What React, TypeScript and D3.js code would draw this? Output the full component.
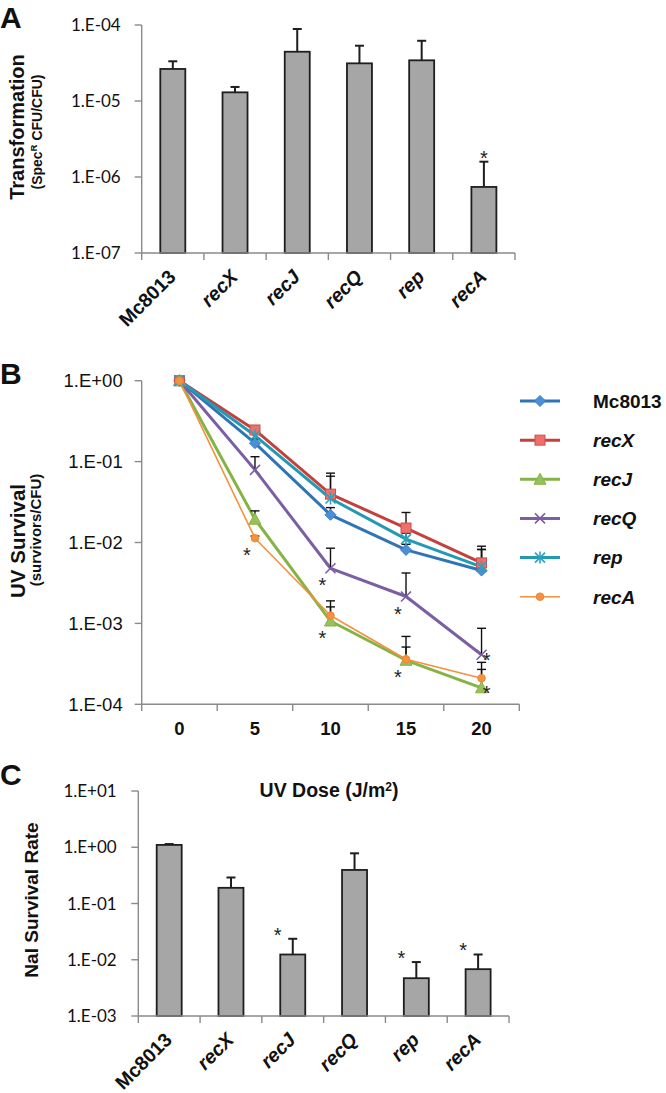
import React from 'react';
import * as d3 from 'd3';

// ---------- Panel A data ----------
const strains = ['Mc8013', 'recX', 'recJ', 'recQ', 'rep', 'recA'];
const strainItalic = [false, true, true, true, true, true];
const transformation = [2.64e-5, 1.3e-5, 4.45e-5, 3.13e-5, 3.43e-5, 7.4e-7];
const transformationErrTop = [3.33e-5, 1.53e-5, 8.86e-5, 5.34e-5, 6.2e-5, 1.59e-6];
const transformationSig = [false, false, false, false, false, true];
const transformationTicks = [1e-7, 1e-6, 1e-5, 1e-4];

// ---------- Panel B data ----------
const uvDoses = ['0', '5', '10', '15', '20'];
const uvSeriesNames = ['Mc8013', 'recX', 'recJ', 'recQ', 'rep', 'recA'];
const uvMc8013 = [1, 0.169, 0.022, 0.0081, 0.0045];
const uvMc8013Err = [1, 0.19, 0.027, 0.0095, 0.0082];
const uvRecX = [1, 0.246, 0.0396, 0.0151, 0.0056];
const uvRecXErr = [1, 0.27, 0.072, 0.0235, 0.009];
const uvRecJ = [1, 0.0194, 0.00107, 0.00035, 0.00016];
const uvRecJErr = [1, 0.0246, 0.0019, 0.00069, 0.00033];
const uvRecQ = [1, 0.079, 0.0048, 0.00215, 0.00041];
const uvRecQErr = [1, 0.115, 0.0085, 0.0042, 0.00087];
const uvRep = [1, 0.21, 0.035, 0.011, 0.005];
const uvRepErr = [1, 0.23, 0.066, 0.013, 0.0082];
const uvRecA = [1, 0.0113, 0.00125, 0.00036, 0.00021];
const uvRecAErr = [1, 0.012, 0.0016, 0.00051, 0.00027];
const uvTicks = [1e-4, 1e-3, 1e-2, 1e-1, 1];
const uvStars = [
  { series: 'recA', dose: '5' },
  { series: 'recQ', dose: '10' },
  { series: 'recJ', dose: '10' },
  { series: 'recQ', dose: '15' },
  { series: 'recJ', dose: '15' },
  { series: 'recQ', dose: '20' },
  { series: 'recJ', dose: '20' },
];

// ---------- Panel C data ----------
const nalSurvival = [1.1, 0.19, 0.0124, 0.395, 0.0047, 0.0068];
const nalErrTop = [1.14, 0.29, 0.0236, 0.78, 0.0091, 0.0124];
const nalSig = [false, false, true, false, true, true];
const nalTicks = [1e-3, 1e-2, 1e-1, 1, 10];

// ---------- styles ----------
const seriesStyle: Record<string, any> = {
  Mc8013: { color: '#2f74b5', width: 3, marker: 'diamond', fill: '#4b8fd8', stroke: '#3a7cc4', italic: false },
  recX: { color: '#c4403d', width: 3, marker: 'square', fill: '#ee6f6c', stroke: '#c9504c', italic: true },
  recJ: { color: '#86b346', width: 3, marker: 'triangle', fill: '#96c257', stroke: '#86b346', italic: true },
  recQ: { color: '#7b5ea3', width: 3, marker: 'x', fill: 'none', stroke: '#7b5ea3', italic: true },
  rep: { color: '#2499b3', width: 3, marker: 'star', fill: 'none', stroke: '#2aa3be', italic: true },
  recA: { color: '#f5903f', width: 1.6, marker: 'circle', fill: '#f5923f', stroke: '#f08634', italic: true },
};
const uvValues: Record<string, number[]> = {
  Mc8013: uvMc8013, recX: uvRecX, recJ: uvRecJ, recQ: uvRecQ, rep: uvRep, recA: uvRecA,
};
const uvErrs: Record<string, number[]> = {
  Mc8013: uvMc8013Err, recX: uvRecXErr, recJ: uvRecJErr, recQ: uvRecQErr, rep: uvRepErr, recA: uvRecAErr,
};

const AXIS = '#8a8a8a';
const SANS = '"Liberation Sans", Arial, Helvetica, sans-serif';
const TICKFONT = 'Lato, "Liberation Sans", sans-serif';

function fmtExp(v: number) {
  const e = Math.round(Math.log10(v));
  return `1.E${e < 0 ? '-' : '+'}${String(Math.abs(e)).padStart(2, '0')}`;
}

function Marker({ type, x, y, fill, stroke }: any) {
  const s = 5.5;
  if (type === 'diamond')
    return <path d={`M${x},${y - s}L${x + s},${y}L${x},${y + s}L${x - s},${y}Z`} fill={fill} stroke={stroke} strokeWidth={1} />;
  if (type === 'square')
    return <rect x={x - 5} y={y - 5} width={10} height={10} fill={fill} stroke={stroke} strokeWidth={1} />;
  if (type === 'triangle')
    return <path d={`M${x},${y - 6}L${x + 6},${y + 5}L${x - 6},${y + 5}Z`} fill={fill} stroke={stroke} strokeWidth={1} />;
  if (type === 'x')
    return (
      <g stroke={stroke} strokeWidth={1.6}>
        <line x1={x - 5} y1={y - 5} x2={x + 5} y2={y + 5} />
        <line x1={x - 5} y1={y + 5} x2={x + 5} y2={y - 5} />
      </g>
    );
  if (type === 'star')
    return (
      <g stroke={stroke} strokeWidth={1.6}>
        <line x1={x - 5} y1={y - 5} x2={x + 5} y2={y + 5} />
        <line x1={x - 5} y1={y + 5} x2={x + 5} y2={y - 5} />
        <line x1={x} y1={y - 6} x2={x} y2={y + 6} />
      </g>
    );
  return <circle cx={x} cy={y} r={3.8} fill={fill} stroke={stroke} strokeWidth={1} />;
}

function Star({ x, y }: { x: number; y: number }) {
  // x,y = visual centre of the asterisk
  return (
    <text x={x} y={y + 11} textAnchor="middle" fontFamily={SANS} fontSize={20} fill="#222">*</text>
  );
}

function BarPanel({ xScale, yScale, values, errs, sig, ticks, labelEnd, starDx, starGap }: any) {
  const [x0, x1] = xScale.range();
  const [yb, yt] = yScale.range();
  const bw = 25;
  const cats: string[] = xScale.domain();
  const bounds = cats.map((c: string) => xScale(c)).concat([x1]);
  return (
    <g>
      {cats.map((c: string, i: number) => {
        const cx = xScale(c) + xScale.bandwidth() / 2;
        const top = yScale(values[i]);
        const et = yScale(errs[i]);
        return (
          <g key={c}>
            <line x1={cx} x2={cx} y1={top} y2={et} stroke="#1e1e1e" strokeWidth={2} />
            <line x1={cx - 4.5} x2={cx + 4.5} y1={et} y2={et} stroke="#1e1e1e" strokeWidth={2} />
            <rect x={cx - bw / 2} y={top} width={bw} height={yb - top} fill="#a6a6a6" stroke="#1e1e1e" strokeWidth={1.8} />
            {sig[i] && <Star x={cx + starDx} y={et - starGap} />}
          </g>
        );
      })}
      <line x1={x0} x2={x0} y1={yb} y2={yt} stroke={AXIS} strokeWidth={1.4} />
      <line x1={x0} x2={x1} y1={yb} y2={yb} stroke={AXIS} strokeWidth={1.4} />
      {ticks.map((t: number) => (
        <g key={t}>
          <line x1={x0 - 7} x2={x0} y1={yScale(t)} y2={yScale(t)} stroke={AXIS} strokeWidth={1.4} />
          <text x={x0 + labelEnd} y={yScale(t)} dy="0.36em" textAnchor="end" fontFamily={TICKFONT} fontSize={17} fill="#111">{fmtExp(t)}</text>
        </g>
      ))}
      {bounds.map((b: number, i: number) => (
        <line key={i} x1={b} x2={b} y1={yb} y2={yb + 7} stroke={AXIS} strokeWidth={1.4} />
      ))}
      {cats.map((c: string, i: number) => {
        const cx = xScale(c) + xScale.bandwidth() / 2;
        return (
          <text key={c} transform={`translate(${cx + 4},${yb + 25}) rotate(-45)`} textAnchor="end"
            fontFamily={SANS} fontWeight="bold" fontStyle={strainItalic[i] ? 'italic' : 'normal'} fontSize={19.5} fill="#111">{c}</text>
        );
      })}
    </g>
  );
}

export default function App() {
  const aX = d3.scaleBand<string>().domain(strains).range([141.7, 515]);
  const aY = d3.scaleLog().domain([1e-7, 1e-4]).range([253, 25]);

  const bX = d3.scaleBand<string>().domain(uvDoses).range([141.7, 519.3]);
  const bY = d3.scaleLog().domain([1e-4, 1]).range([704.3, 380.7]);
  const bx = (d: string) => (bX(d) as number) + bX.bandwidth() / 2;

  const cX = d3.scaleBand<string>().domain(strains).range([138.3, 509]);
  const cY = d3.scaleLog().domain([1e-3, 10]).range([1016, 791]);

  const lineGen = d3.line<[number, number]>().x((d) => d[0]).y((d) => d[1]);

  const legendY = d3.scalePoint<string>().domain(uvSeriesNames).range([401, 596.7]);

  return (
    <svg width={666} height={1093} style={{ position: 'absolute', left: 0, top: 0, background: '#fff' }}>
      <rect x={0} y={0} width={666} height={1093} fill="#fff" />
      <text x={0} y={28} fontFamily={SANS} fontWeight="bold" fontSize={30} fill="#111">A</text>
      <text x={0} y={384} fontFamily={SANS} fontWeight="bold" fontSize={30} fill="#111">B</text>
      <text x={0} y={785} fontFamily={SANS} fontWeight="bold" fontSize={30} fill="#111">C</text>

      {/* Panel A */}
      <text transform="translate(24,127) rotate(-90)" textAnchor="middle" fontFamily={SANS} fontWeight="bold" fontSize={20} fill="#111">Transformation</text>
      <text transform="translate(42,132) rotate(-90)" textAnchor="middle" fontFamily={SANS} fontWeight="bold" fontSize={14} fill="#111">
        (Spec<tspan dy={-5} fontSize={9.5}>R</tspan><tspan dy={5}> CFU/CFU)</tspan>
      </text>
      <BarPanel xScale={aX} yScale={aY} values={transformation} errs={transformationErrTop} sig={transformationSig}
        ticks={transformationTicks} labelEnd={-21} starDx={0} starGap={8} />

      {/* Panel B */}
      <text transform="translate(25,541) rotate(-90)" textAnchor="middle" fontFamily={SANS} fontWeight="bold" fontSize={20.5} fill="#111">UV Survival</text>
      <text transform="translate(41,530) rotate(-90)" textAnchor="middle" fontFamily={SANS} fontWeight="bold" fontSize={15} fill="#111">(survivors/CFU)</text>
      <line x1={141.7} x2={141.7} y1={380.7} y2={704.3} stroke={AXIS} strokeWidth={1.4} />
      <line x1={141.7} x2={519.3} y1={704.3} y2={704.3} stroke={AXIS} strokeWidth={1.4} />
      {uvTicks.map((t) => (
        <g key={t}>
          <line x1={134.7} x2={141.7} y1={bY(t)} y2={bY(t)} stroke={AXIS} strokeWidth={1.4} />
          <text x={122.7} y={bY(t)} dy="0.36em" textAnchor="end" fontFamily={SANS} fontSize={18.5} fill="#111">{fmtExp(t)}</text>
        </g>
      ))}
      {uvDoses.map((d) => (
        <g key={d}>
          <line x1={bX(d)} x2={bX(d)} y1={704.3} y2={711} stroke={AXIS} strokeWidth={1.4} />
          <text x={bx(d)} y={735} textAnchor="middle" fontFamily={SANS} fontWeight="bold" fontSize={18.5} fill="#111">{d}</text>
        </g>
      ))}
      <line x1={519.3} x2={519.3} y1={704.3} y2={711} stroke={AXIS} strokeWidth={1.4} />
      <text x={329} y={797} textAnchor="middle" fontFamily={SANS} fontWeight="bold" fontSize={19.5} fill="#111">
        UV Dose (J/m<tspan dy={-6} fontSize={12}>2</tspan><tspan dy={6}>)</tspan>
      </text>
      {uvSeriesNames.map((s) => {
        const st = seriesStyle[s];
        const pts = uvDoses.map((d, i) => [bx(d), bY(uvValues[s][i])] as [number, number]);
        return <path key={s} d={lineGen(pts) as string} fill="none" stroke={st.color} strokeWidth={st.width} strokeLinejoin="round" />;
      })}
      {uvSeriesNames.map((s) => (
        <g key={s} stroke="#111" strokeWidth={1.4}>
          {uvDoses.map((d, i) => {
            if (i === 0) return null;
            const y0 = bY(uvValues[s][i]);
            const y1 = bY(uvErrs[s][i]);
            const x = bx(d);
            return (
              <g key={d}>
                <line x1={x} x2={x} y1={y0} y2={y1} />
                <line x1={x - 4.5} x2={x + 4.5} y1={y1} y2={y1} />
              </g>
            );
          })}
        </g>
      ))}
      {uvSeriesNames.map((s) => {
        const st = seriesStyle[s];
        return (
          <g key={s}>
            {uvDoses.map((d, i) => (
              <Marker key={d} type={st.marker} x={bx(d)} y={bY(uvValues[s][i])} fill={st.fill} stroke={st.stroke} />
            ))}
          </g>
        );
      })}
      {uvStars.map((m, k) => {
        const i = uvDoses.indexOf(m.dose);
        const x = bx(m.dose);
        const y = bY(uvValues[m.series][i]);
        const last = i === uvDoses.length - 1;
        return <Star key={k} x={last ? x + 5 : x - 8} y={last ? y + 1 : y + 13} />;
      })}
      {uvSeriesNames.map((s) => {
        const st = seriesStyle[s];
        const y = legendY(s) as number;
        return (
          <g key={s}>
            <line x1={520} x2={560} y1={y} y2={y} stroke={st.color} strokeWidth={st.width} />
            <Marker type={st.marker} x={540} y={y} fill={st.fill} stroke={st.stroke} />
            <text x={593} y={y} dy="0.36em" fontFamily={SANS} fontWeight="bold" fontStyle={st.italic ? 'italic' : 'normal'} fontSize={19} fill="#111">{s}</text>
          </g>
        );
      })}

      {/* Panel C */}
      <text transform="translate(38,900) rotate(-90)" textAnchor="middle" fontFamily={SANS} fontWeight="bold" fontSize={19} fill="#111">NaI Survival Rate</text>
      <BarPanel xScale={cX} yScale={cY} values={nalSurvival} errs={nalErrTop} sig={nalSig}
        ticks={nalTicks} labelEnd={-21.6} starDx={-15} starGap={8} />
    </svg>
  );
}
